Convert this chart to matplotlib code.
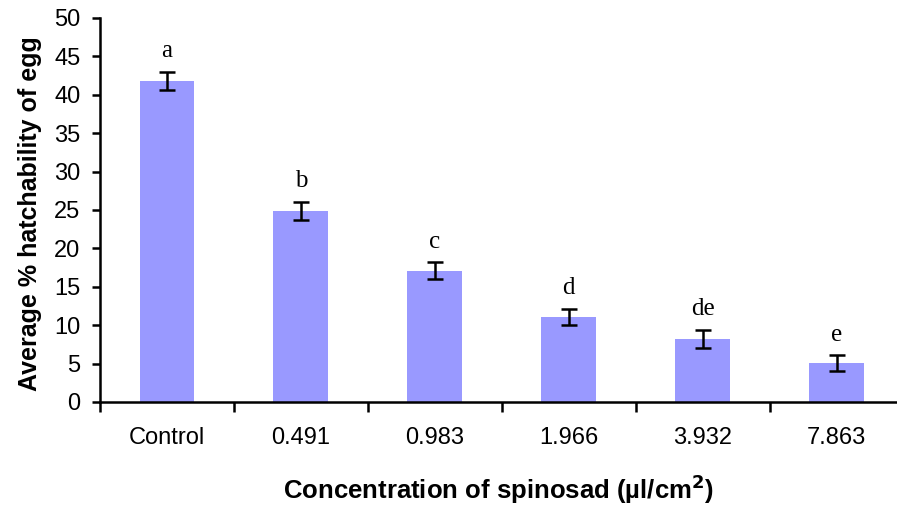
import matplotlib
matplotlib.use("Agg")
import matplotlib.pyplot as plt
import numpy as np

categories = ["Control", "0.491", "0.983", "1.966", "3.932", "7.863"]
values = [41.8, 24.9, 17.1, 11.1, 8.2, 5.1]
errors = [1.2, 1.2, 1.1, 1.05, 1.2, 1.0]
letters = ["a", "b", "c", "d", "de", "e"]
yticks = [0, 5, 10, 15, 20, 25, 30, 35, 40, 45, 50]

fig = plt.figure(figsize=(8.97, 5.08), dpi=100)
ax = fig.add_axes([100/897, 1-402/508, 1-100/897, (402-18)/508])

x = np.arange(len(categories))
ax.bar(x, values, width=0.41, color="#9999FF", zorder=2)
ax.errorbar(x, values, yerr=errors, fmt="none", ecolor="black",
            elinewidth=1.8, capsize=6, capthick=1.8, zorder=3)
for xi, v, e, l in zip(x, values, errors, letters):
    ax.text(xi, v + e + 1.9, l, ha="center", va="baseline",
            family="Liberation Serif", fontsize=18)

ax.set_xlim(-0.5, 5.45)
ax.set_ylim(0, 50)
ax.set_yticks(yticks)
ax.set_yticklabels([str(t) for t in yticks], family="Liberation Sans", fontsize=17)
ax.set_xticks(np.arange(-0.5, 5.0, 1.0))
ax.set_xticklabels([])
ax.set_xticks(x, minor=True)
ax.set_xticklabels(categories, minor=True, family="Liberation Sans", fontsize=17)
ax.tick_params(axis="x", which="minor", length=0, pad=18)
ax.tick_params(axis="x", which="major", length=7, width=1.8, direction="out")
ax.tick_params(axis="y", length=6, width=1.8, direction="out", pad=8)

for s in ["top", "right"]:
    ax.spines[s].set_visible(False)
for s in ["left", "bottom"]:
    ax.spines[s].set_linewidth(1.8)

ax.set_ylabel("Average % hatchability of egg", family="Liberation Sans",
              fontsize=18, fontweight="bold", labelpad=9)
ax.yaxis.label.set_position((0, (402 - 214) / 384))
ax.set_xlabel("Concentration of spinosad (\u00b5l/cm$^\\mathbf{2}$)", family="Liberation Sans",
              fontsize=18.5, fontweight="bold", labelpad=17)

fig.savefig("out.png", dpi=100)
